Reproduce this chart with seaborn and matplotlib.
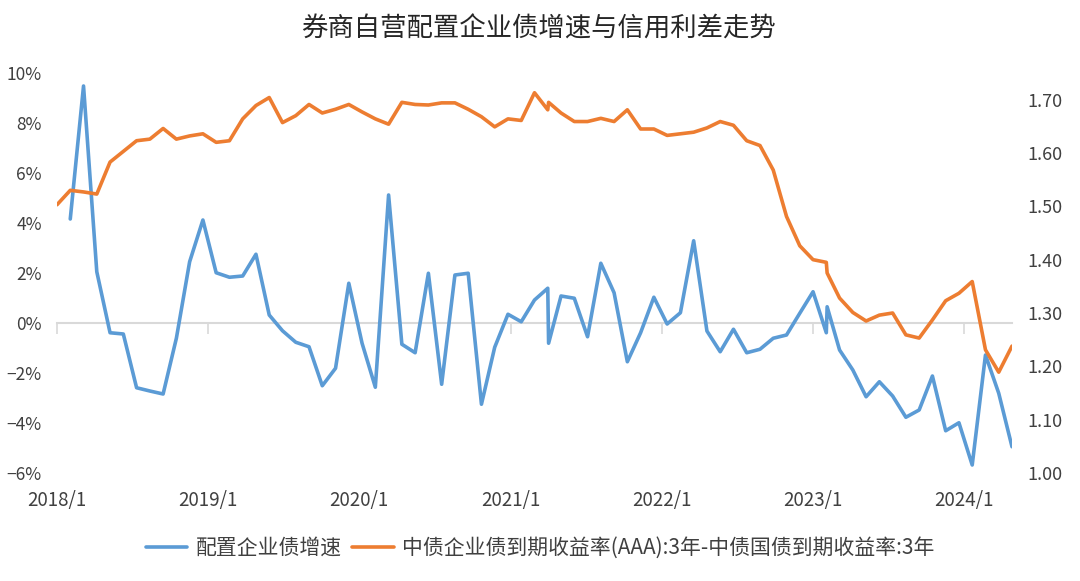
import numpy as np
import pandas as pd
import matplotlib
matplotlib.use("Agg")
import matplotlib.pyplot as plt
import matplotlib.dates as mdates
from matplotlib.ticker import FuncFormatter
import seaborn as sns

# 数据：73个等间隔观测点，另在第37、58点后各有一个紧邻的补充观测
title = "券商自营配置企业债增速与信用利差走势"
growth_label = "配置企业债增速"
spread_label = "中债企业债到期收益率(AAA):3年-中债国债到期收益率:3年"

growth = [np.nan, 4.16, 9.48, 2.05, -0.39, -0.44, -2.59, -2.72, -2.84, -0.61,
          2.45, 4.12, 2.01, 1.83, 1.88, 2.75, 0.32, -0.31, -0.77, -0.95,
          -2.51, -1.81, 1.59, -0.81, -2.57, 5.12, -0.85, -1.19, 1.99, -2.45,
          1.92, 1.99, -3.25, -0.97, 0.35, 0.05, 0.92, 1.39, -0.81, 1.08,
          0.99, -0.55, 2.39, 1.21, -1.55, -0.39, 1.03, -0.04, 0.41, 3.29,
          -0.32, -1.15, -0.25, -1.19, -1.05, -0.61, -0.48, 0.39, 1.25, -0.39,
          0.65, -1.08, -1.88, -2.95, -2.35, -2.92, -3.77, -3.48, -2.12, -4.31,
          -3.99, -5.68, -1.28, -2.81, -4.95]

spread = [1.503, 1.530, 1.527, 1.523, 1.583, 1.603, 1.623, 1.626, 1.646, 1.626,
          1.632, 1.636, 1.620, 1.623, 1.664, 1.689, 1.704, 1.657, 1.670, 1.691,
          1.675, 1.682, 1.691, 1.677, 1.664, 1.654, 1.695, 1.691, 1.690, 1.694,
          1.694, 1.682, 1.668, 1.649, 1.664, 1.661, 1.713, 1.681, 1.695, 1.675,
          1.659, 1.659, 1.665, 1.659, 1.681, 1.645, 1.645, 1.633, 1.636, 1.639,
          1.647, 1.659, 1.652, 1.623, 1.614, 1.568, 1.481, 1.426, 1.400, 1.395,
          1.375, 1.328, 1.301, 1.285, 1.296, 1.300, 1.259, 1.253, 1.287, 1.323,
          1.337, 1.359, 1.231, 1.189, 1.238]

base_dates = pd.date_range("2018-01-01", "2024-04-26", periods=73)
extra_after = [37, 58]
dates = []
for i, d in enumerate(base_dates):
    dates.append(d)
    if i in extra_after:
        dates.append(d + pd.Timedelta(days=2))

df = pd.DataFrame({"date": dates, "growth": growth, "spread": spread})

BLUE = "#5B9BD5"
ORANGE = "#ED7D31"
GREY = "#D9D9D9"
TXT = "#404040"

sns.set_theme(style="white")
plt.rcParams["font.family"] = ["Noto Sans CJK SC", "DejaVu Sans"]

fig = plt.figure(figsize=(10.8, 5.81), dpi=100)
ax = fig.add_axes([57 / 1080, 1 - 473 / 581, (1012 - 57) / 1080, 400 / 581])

sns.lineplot(data=df, x="date", y="growth", ax=ax, color=BLUE, lw=2.6,
             label=growth_label, legend=False)
ax2 = ax.twinx()
sns.lineplot(data=df, x="date", y="spread", ax=ax2, color=ORANGE, lw=2.6,
             label=spread_label, legend=False)

# 左轴
ax.set_ylim(-6, 10)
ax.set_yticks(range(-6, 11, 2))
ax.yaxis.set_major_formatter(FuncFormatter(lambda v, p: f"{v:.0f}%".replace("-", "\u2212")))
# 右轴
ax2.set_ylim(1.0, 1.75)
ax2.set_yticks(np.arange(1.0, 1.71, 0.1))
ax2.yaxis.set_major_formatter(FuncFormatter(lambda v, p: f"{v:.2f}"))

ax.set_xlim(dates[0], dates[-1])
ax.xaxis.set_major_locator(mdates.YearLocator())
ax.xaxis.set_major_formatter(FuncFormatter(
    lambda v, p: f"{mdates.num2date(v).year}/{mdates.num2date(v).month}"))

for a in (ax, ax2):
    for s in a.spines.values():
        s.set_visible(False)
    a.set_xlabel("")
    a.set_ylabel("")

ax.tick_params(axis="x", length=0, pad=12, labelsize=13.5, labelcolor=TXT)
ax.tick_params(axis="y", length=0, pad=11, labelsize=12.5, labelcolor=TXT)
ax2.tick_params(axis="y", length=0, pad=11, labelsize=13, labelcolor=TXT)

# 0% 处的横轴线和刻度
sec = ax.secondary_xaxis(6 / 16)
sec.xaxis.set_major_locator(mdates.YearLocator())
sec.tick_params(axis="x", direction="out", length=8, width=1.2, color=GREY,
                labelbottom=False)
sec.spines["bottom"].set_color(GREY)
sec.spines["bottom"].set_linewidth(1.5)

fig.text(0.499, 1 - 29 / 581, title, ha="center", va="center",
         fontsize=19, color="#262626")

h1, l1 = ax.get_legend_handles_labels()
h2, l2 = ax2.get_legend_handles_labels()
fig.legend(h1 + h2, l1 + l2, loc="center", bbox_to_anchor=(0.5, 1 - 548 / 581),
           ncol=2, frameon=False, fontsize=15, handlelength=2.0,
           handletextpad=0.4, columnspacing=0.5, labelcolor=TXT)

fig.savefig("out.png", dpi=100)
